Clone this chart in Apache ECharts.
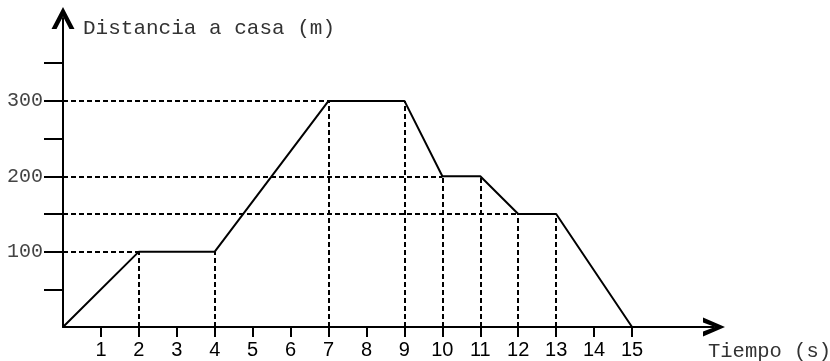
<!DOCTYPE html>
<html lang="es">
<head>
<meta charset="UTF-8">
<title>Distancia a casa</title>
<style>
  html, body { margin: 0; padding: 0; background: #fff; }
  #chart { width: 830px; height: 361px; }
</style>
</head>
<body>
<div id="chart"></div>
<script src="https://cdn.jsdelivr.net/npm/echarts@6/dist/echarts.min.js"></script>
<script>
// tiempo (s) y distancia (m)
const tiempo = [0, 2, 4, 7, 9, 10, 11, 12, 13, 15];
const distancia = [0, 100, 100, 300, 300, 200, 200, 150, 150, 0];
const xTicks = [1, 2, 3, 4, 5, 6, 7, 8, 9, 10, 11, 12, 13, 14, 15];
const yTicks = [50, 100, 150, 200, 250, 300, 350];
const yLabels = [100, 200, 300];

const points = tiempo.map((t, i) => [t, distancia[i]]);

// guias discontinuas: verticales desde cada vertice, horizontales hasta el primer punto de cada nivel
const guides = [];
points.forEach(p => {
  if (p[1] > 0) guides.push([{ coord: [p[0], 0] }, { coord: [p[0], p[1]] }]);
});
const seen = {};
points.forEach(p => {
  if (p[1] > 0 && !seen[p[1]]) {
    seen[p[1]] = true;
    guides.push([{ coord: [0, p[1]] }, { coord: [p[0], p[1]] }]);
  }
});

const mono = '"Liberation Mono", "Courier New", monospace';
const sans = '"Liberation Sans", Arial, sans-serif';
const chevX = 'path://M0,22 L9.5,0 L19,22 L14,22 L9.5,10 L5,22 Z';
const chevY = 'path://M0,22 L11.5,0 L23,22 L18,22 L11.5,9.5 L5,22 Z';

let chart = echarts.init(document.getElementById('chart'));
chart.setOption({
  animation: false,
  grid: { left: 63, right: 116, top: 18, bottom: 34, outerBoundsMode: 'none' },
  xAxis: {
    type: 'value',
    min: 0,
    max: 17.16,
    interval: 1,
    splitLine: { show: false },
    axisLine: {
      lineStyle: { color: '#000', width: 2 },
      symbol: ['none', chevX],
      symbolSize: [19, 22]
    },
    axisTick: { customValues: xTicks, length: 10, lineStyle: { color: '#000', width: 2 } },
    axisLabel: {
      customValues: xTicks,
      margin: 13,
      color: '#000',
      fontSize: 20,
      fontFamily: sans
    },
    name: 'Tiempo (s)',
    nameLocation: 'end',
    nameGap: -6,
    nameTextStyle: {
      align: 'left',
      verticalAlign: 'top',
      padding: [14, 0, 0, 0],
      fontFamily: mono,
      fontSize: 20.5,
      color: '#333'
    }
  },
  yAxis: {
    type: 'value',
    min: 0,
    max: 410,
    interval: 50,
    splitLine: { show: false },
    axisLine: {
      lineStyle: { color: '#000', width: 2 },
      symbol: ['none', chevY],
      symbolSize: [23, 22]
    },
    axisTick: { customValues: yTicks, length: 19, lineStyle: { color: '#000', width: 2 } },
    axisLabel: {
      customValues: yLabels,
      margin: 20,
      color: '#444',
      fontSize: 20,
      fontFamily: mono
    },
    name: 'Distancia a casa (m)',
    nameLocation: 'end',
    nameGap: -10,
    nameTextStyle: {
      align: 'left',
      verticalAlign: 'middle',
      padding: [0, 0, 0, 20],
      fontFamily: mono,
      fontSize: 21,
      color: '#333'
    }
  },
  series: [{
    type: 'line',
    data: points,
    symbol: 'none',
    lineStyle: { color: '#000', width: 2 },
    z: 3,
    markLine: {
      silent: true,
      symbol: 'none',
      label: { show: false },
      lineStyle: { color: '#000', width: 2, type: [5, 3] },
      data: guides
    }
  }]
});
</script>
</body>
</html>
